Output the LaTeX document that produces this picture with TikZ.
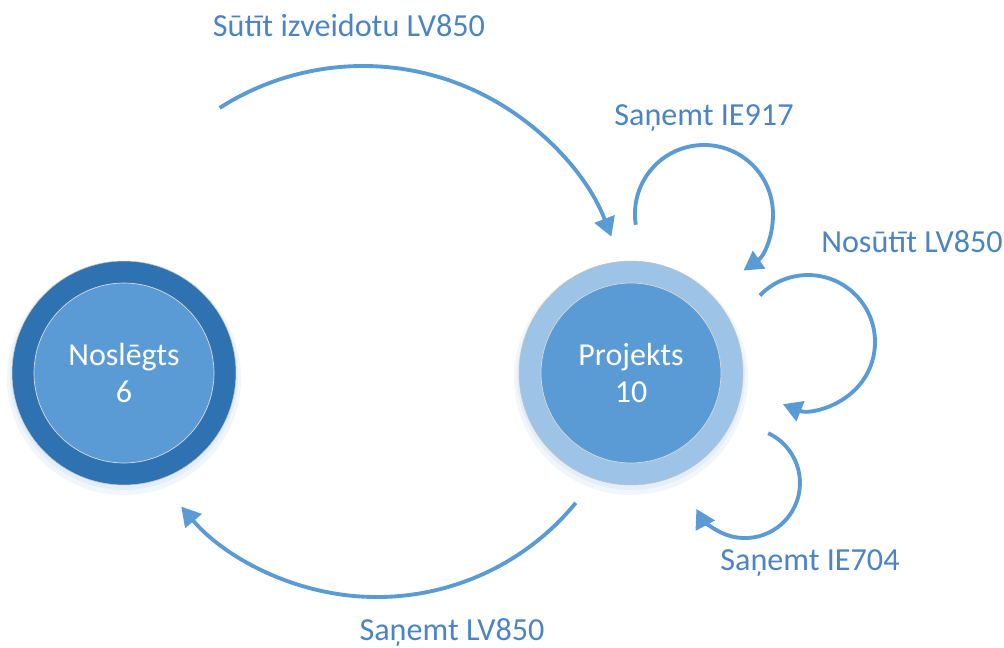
\documentclass[tikz,border=0pt]{standalone}
\usepackage{fontspec}
\setmainfont{Carlito}
\usetikzlibrary{arrows.meta}
\definecolor{ringdark}{HTML}{2E72B2}
\definecolor{ringlight}{HTML}{9DC3E6}
\definecolor{corefill}{HTML}{5B9BD5}
\definecolor{arrowblue}{HTML}{5B9BD5}
\definecolor{labelblue}{HTML}{4A84C4}
\definecolor{rimgray}{HTML}{C4C4C4}
\definecolor{glowblue}{HTML}{E4EEF8}
\tikzset{
  outerring/.style={circle,draw=rimgray,line width=0.3pt,
                    minimum size=4.48cm,inner sep=0pt},
  innercore/.style={circle,draw=white!70!gray,line width=0.4pt,fill=corefill,
                    minimum size=3.6cm,inner sep=0pt,align=center,text=white,
                    font=\fontsize{18.2}{21.6}\selectfont},
  statearr/.style={-{Triangle[length=3.8mm,width=4.2mm]},line width=2.2pt,
                   color=arrowblue},
  arrlabel/.style={anchor=base,text=labelblue,inner sep=0pt,
                   font=\fontsize{18.3}{21}\selectfont}
}
\begin{document}
\begin{tikzpicture}[x=0.02cm,y=0.02cm]
  \useasboundingbox (0,0) rectangle (1004,647);

  % state centres and soft glow
  \coordinate (cclosed) at (124,274);
  \coordinate (cproj) at (631,274);
  \foreach \c in {cclosed,cproj} {
    \fill[glowblue,opacity=0.5] (\c) ++(0,-5) circle[radius=117];
    \fill[glowblue] (\c) ++(0,-3) circle[radius=114];
  }

  % states
  \node[outerring,fill=ringdark] (closed) at (cclosed) {};
  \node[innercore] (closedin) at (cclosed) {Noslēgts\\6};
  \node[outerring,fill=ringlight] (proj) at (cproj) {};
  \node[innercore] (projin) at (cproj) {Projekts\\10};

  % arrow start points
  \coordinate (sendbeg) at (219.7,539.1);
  \coordinate (ie917beg) at (635.8,422.2);
  \coordinate (lvoutbeg) at (759.8,351.5);
  \coordinate (ie704beg) at (768.2,213.8);
  \coordinate (lvinbeg) at (575.8,144.2);

  \draw[statearr] (sendbeg) arc[start angle=122.6,end angle=21,radius=266];
  \draw[statearr] (ie917beg) arc[start angle=189,end angle=-55,radius=69];
  \draw[statearr] (lvoutbeg) arc[start angle=136,end angle=-112,radius=67];
  \draw[statearr] (ie704beg) arc[start angle=65,end angle=-152,radius=55];
  \draw[statearr] (lvinbeg) arc[start angle=-39.3,end angle=-139.6,radius=257];

  % labels
  \node[arrlabel] (lsend) at (349,610) {Sūtīt izveidotu LV850};
  \node[arrlabel] (lie917) at (704,521) {Saņemt IE917};
  \node[arrlabel] (llvout) at (912,395) {Nosūtīt LV850};
  \node[arrlabel] (lie704) at (810,77) {Saņemt IE704};
  \node[arrlabel] (llvin) at (452,7) {Saņemt LV850};
\end{tikzpicture}
\end{document}
